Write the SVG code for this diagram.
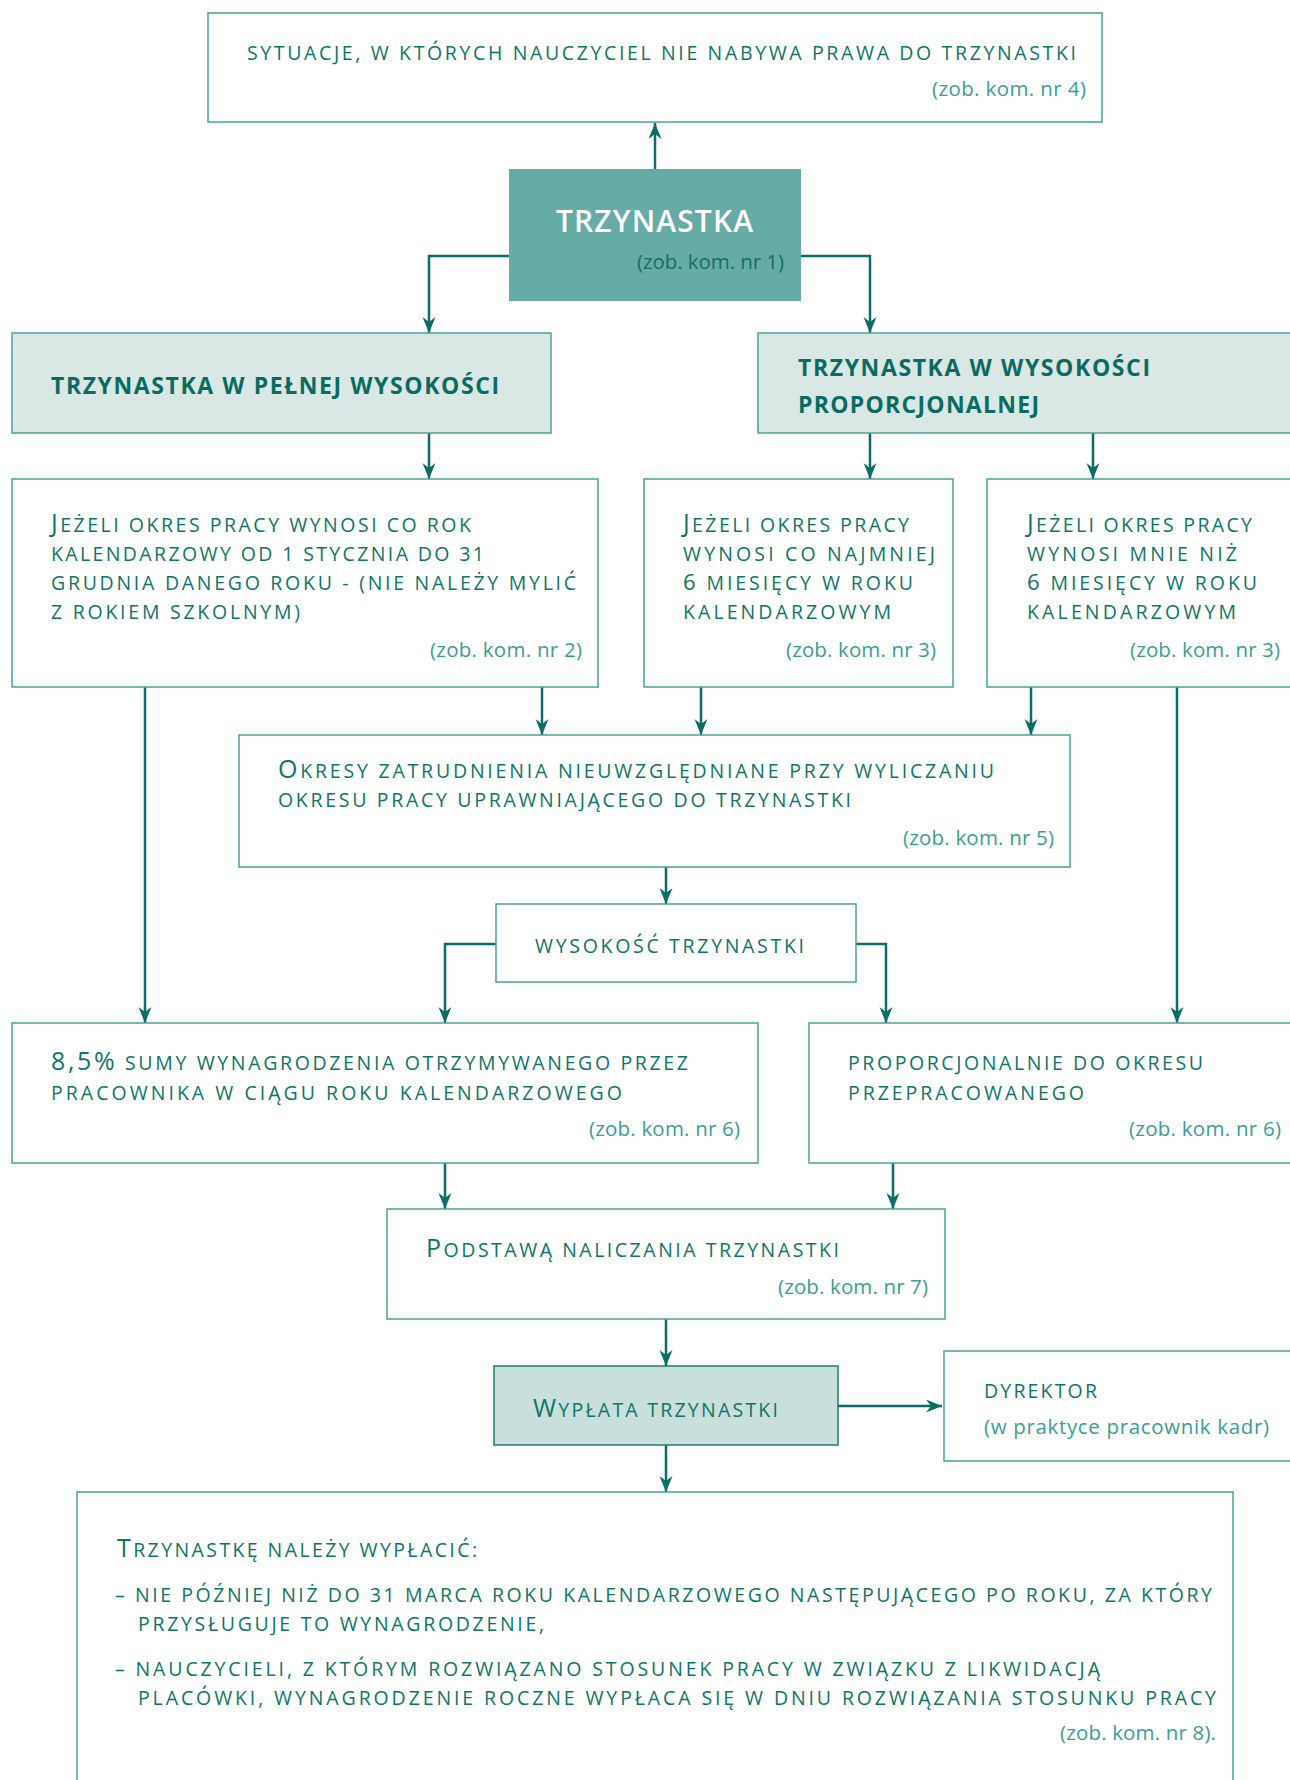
<svg xmlns="http://www.w3.org/2000/svg" width="1290" height="1780" viewBox="0 0 1290 1780">
<defs>
<marker id="ah" markerUnits="userSpaceOnUse" markerWidth="18" markerHeight="14" refX="16" refY="6.5" orient="auto">
<path d="M0,0 L16,6.5 L0,13 L5,6.5 z" fill="#0a6e64"/>
</marker>
<style>
.box{fill:#ffffff;stroke:#4aa39a;stroke-width:1.5}
.hdr{fill:#d9e7e5;stroke:#4aa39a;stroke-width:1.5}
.main{fill:#66aba5;stroke:none}
.pay{fill:#c8dfdb;stroke:#1e7d73;stroke-width:1.5}
.t{font-family:"Open Sans","Noto Sans","Liberation Sans",sans-serif;font-size:19.5px;fill:#0e7569}
.cap{font-size:25px}
.dig{font-size:22px}
.hb{font-family:"Open Sans","Noto Sans","Liberation Sans",sans-serif;font-size:23px;font-weight:700;fill:#0a6b60}
.z{font-family:"Open Sans","Noto Sans","Liberation Sans",sans-serif;font-size:20.5px;fill:#3a9e94}
.zd{font-family:"Open Sans","Noto Sans","Liberation Sans",sans-serif;font-size:20.5px;fill:#136f66}
.wt{font-family:"Open Sans","Noto Sans","Liberation Sans",sans-serif;font-size:30px;font-weight:600;fill:#ffffff}
.c{fill:none;stroke:#0a6e64;stroke-width:2.5;marker-end:url(#ah)}
</style>
</defs>
<rect x="0" y="0" width="1290" height="1780" fill="#ffffff"/>

<g id="connectors">
<path class="c" d="M655,169 V123"/>
<path class="c" d="M509,256 H429 V333"/>
<path class="c" d="M801,256 H870 V333"/>
<path class="c" d="M429,433 V479"/>
<path class="c" d="M870,433 V479"/>
<path class="c" d="M1093,433 V479"/>
<path class="c" d="M542,687 V735"/>
<path class="c" d="M145,687 V1023"/>
<path class="c" d="M701,687 V735"/>
<path class="c" d="M1031,687 V735"/>
<path class="c" d="M1177,687 V1023"/>
<path class="c" d="M666,867 V904"/>
<path class="c" d="M496,944 H445 V1023"/>
<path class="c" d="M856,944 H886 V1023"/>
<path class="c" d="M445,1163 V1209"/>
<path class="c" d="M893,1163 V1209"/>
<path class="c" d="M666,1319 V1366"/>
<path class="c" d="M838,1406 H942"/>
<path class="c" d="M666,1445 V1492"/>
</g>

<g id="n-sytuacje">
<rect class="box" x="208" y="13" width="894" height="109"/>
<text class="t" x="247" y="60" textLength="829" lengthAdjust="spacing">SYTUACJE, W KTÓRYCH NAUCZYCIEL NIE NABYWA PRAWA DO TRZYNASTKI</text>
<text class="z" x="932" y="96" textLength="154" lengthAdjust="spacing">(zob. kom. nr 4)</text>
</g>

<g id="n-trzynastka">
<rect class="main" x="509" y="169" width="292" height="132"/>
<text class="wt" x="556" y="232" textLength="197" lengthAdjust="spacing">TRZYNASTKA</text>
<text class="zd" x="637" y="269" textLength="147" lengthAdjust="spacing">(zob. kom. nr 1)</text>
</g>

<g id="n-pelna">
<rect class="hdr" x="12" y="333" width="539" height="100"/>
<text class="hb" x="51" y="394" textLength="448" lengthAdjust="spacing">TRZYNASTKA W PEŁNEJ WYSOKOŚCI</text>
</g>

<g id="n-proporcjonalna">
<rect class="hdr" x="758" y="333" width="545" height="100"/>
<text class="hb" x="798" y="376" textLength="352" lengthAdjust="spacing">TRZYNASTKA W WYSOKOŚCI</text>
<text class="hb" x="798" y="413" textLength="241" lengthAdjust="spacing">PROPORCJONALNEJ</text>
</g>

<g id="n-rok">
<rect class="box" x="12" y="479" width="586" height="208"/>
<text class="t" x="51" y="532" textLength="420" lengthAdjust="spacing"><tspan class="cap">J</tspan>EŻELI OKRES PRACY WYNOSI CO ROK</text>
<text class="t" x="51" y="561" textLength="433" lengthAdjust="spacing">KALENDARZOWY OD 1 STYCZNIA DO 31</text>
<text class="t" x="51" y="590" textLength="525" lengthAdjust="spacing">GRUDNIA DANEGO ROKU - (NIE NALEŻY MYLIĆ</text>
<text class="t" x="51" y="619" textLength="249" lengthAdjust="spacing">Z ROKIEM SZKOLNYM)</text>
<text class="z" x="430" y="657" textLength="152" lengthAdjust="spacing">(zob. kom. nr 2)</text>
</g>

<g id="n-6mies">
<rect class="box" x="644" y="479" width="309" height="208"/>
<text class="t" x="683" y="532" textLength="226" lengthAdjust="spacing"><tspan class="cap">J</tspan>EŻELI OKRES PRACY</text>
<text class="t" x="683" y="561" textLength="252" lengthAdjust="spacing">WYNOSI CO NAJMNIEJ</text>
<text class="t" x="683" y="590" textLength="230" lengthAdjust="spacing"><tspan class="dig">6</tspan> MIESIĘCY W ROKU</text>
<text class="t" x="683" y="619" textLength="208" lengthAdjust="spacing">KALENDARZOWYM</text>
<text class="z" x="786" y="657" textLength="150" lengthAdjust="spacing">(zob. kom. nr 3)</text>
</g>

<g id="n-mniej6">
<rect class="box" x="987" y="479" width="316" height="208"/>
<text class="t" x="1027" y="532" textLength="225" lengthAdjust="spacing"><tspan class="cap">J</tspan>EŻELI OKRES PRACY</text>
<text class="t" x="1027" y="561" textLength="210" lengthAdjust="spacing">WYNOSI MNIE NIŻ</text>
<text class="t" x="1027" y="590" textLength="230" lengthAdjust="spacing"><tspan class="dig">6</tspan> MIESIĘCY W ROKU</text>
<text class="t" x="1027" y="619" textLength="209" lengthAdjust="spacing">KALENDARZOWYM</text>
<text class="z" x="1130" y="657" textLength="150" lengthAdjust="spacing">(zob. kom. nr 3)</text>
</g>

<g id="n-okresy">
<rect class="box" x="239" y="735" width="831" height="132"/>
<text class="t" x="278" y="778" textLength="716" lengthAdjust="spacing"><tspan class="cap">O</tspan>KRESY ZATRUDNIENIA NIEUWZGLĘDNIANE PRZY WYLICZANIU</text>
<text class="t" x="278" y="807" textLength="573" lengthAdjust="spacing">OKRESU PRACY UPRAWNIAJĄCEGO DO TRZYNASTKI</text>
<text class="z" x="903" y="845" textLength="151" lengthAdjust="spacing">(zob. kom. nr 5)</text>
</g>

<g id="n-wysokosc">
<rect class="box" x="496" y="904" width="360" height="78"/>
<text class="t" x="535" y="953" textLength="269" lengthAdjust="spacing">WYSOKOŚĆ TRZYNASTKI</text>
</g>

<g id="n-85">
<rect class="box" x="12" y="1023" width="746" height="140"/>
<text class="t" x="51" y="1070" textLength="637" lengthAdjust="spacing"><tspan class="cap">8,5%</tspan> SUMY WYNAGRODZENIA OTRZYMYWANEGO PRZEZ</text>
<text class="t" x="51" y="1100" textLength="571" lengthAdjust="spacing">PRACOWNIKA W CIĄGU ROKU KALENDARZOWEGO</text>
<text class="z" x="589" y="1136" textLength="151" lengthAdjust="spacing">(zob. kom. nr 6)</text>
</g>

<g id="n-proporc">
<rect class="box" x="809" y="1023" width="494" height="140"/>
<text class="t" x="848" y="1070" textLength="355" lengthAdjust="spacing">PROPORCJONALNIE DO OKRESU</text>
<text class="t" x="848" y="1100" textLength="236" lengthAdjust="spacing">PRZEPRACOWANEGO</text>
<text class="z" x="1129" y="1136" textLength="152" lengthAdjust="spacing">(zob. kom. nr 6)</text>
</g>

<g id="n-podstawa">
<rect class="box" x="387" y="1209" width="558" height="110"/>
<text class="t" x="426" y="1257" textLength="413" lengthAdjust="spacing"><tspan class="cap">P</tspan>ODSTAWĄ NALICZANIA TRZYNASTKI</text>
<text class="z" x="778" y="1294" textLength="150" lengthAdjust="spacing">(zob. kom. nr 7)</text>
</g>

<g id="n-wyplata">
<rect class="pay" x="494" y="1366" width="344" height="79"/>
<text class="t" x="533" y="1417" textLength="245" lengthAdjust="spacing"><tspan class="cap">W</tspan>YPŁATA TRZYNASTKI</text>
</g>

<g id="n-dyrektor">
<rect class="box" x="944" y="1351" width="359" height="110"/>
<text class="t" x="984" y="1398" textLength="113" lengthAdjust="spacing">DYREKTOR</text>
<text class="z" x="984" y="1434" textLength="285" lengthAdjust="spacing">(w praktyce pracownik kadr)</text>
</g>

<g id="n-wyplacic">
<rect class="box" x="77" y="1492" width="1156" height="300"/>
<text class="t" x="117" y="1557" textLength="360" lengthAdjust="spacing"><tspan class="cap">T</tspan>RZYNASTKĘ NALEŻY WYPŁACIĆ:</text>
<text class="t" x="115" y="1602" textLength="1097" lengthAdjust="spacing">– NIE PÓŹNIEJ NIŻ DO 31 MARCA ROKU KALENDARZOWEGO NASTĘPUJĄCEGO PO ROKU, ZA KTÓRY</text>
<text class="t" x="138" y="1631" textLength="406" lengthAdjust="spacing">PRZYSŁUGUJE TO WYNAGRODZENIE,</text>
<text class="t" x="115" y="1676" textLength="985" lengthAdjust="spacing">– NAUCZYCIELI, Z KTÓRYM ROZWIĄZANO STOSUNEK PRACY W ZWIĄZKU Z LIKWIDACJĄ</text>
<text class="t" x="138" y="1705" textLength="1078" lengthAdjust="spacing">PLACÓWKI, WYNAGRODZENIE ROCZNE WYPŁACA SIĘ W DNIU ROZWIĄZANIA STOSUNKU PRACY</text>
<text class="z" x="1060" y="1740" textLength="156" lengthAdjust="spacing">(zob. kom. nr 8).</text>
</g>
</svg>
